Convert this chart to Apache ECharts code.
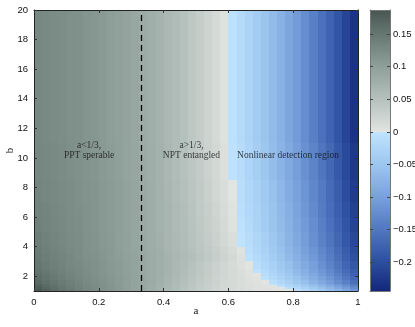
<!DOCTYPE html>
<html>
<head>
<meta charset="utf-8">
<script src="https://cdn.jsdelivr.net/npm/echarts@6/dist/echarts.min.js"></script>
<style>
  html, body { margin: 0; padding: 0; background: #fff; }
  #main { width: 415px; height: 327px; }
</style>
</head>
<body>
<div id="main"></div>
<script>
// cell edges along a (columns) and b (rows)
var aEdges = [0, 0.025, 0.05, 0.075, 0.1, 0.125, 0.15, 0.175, 0.2, 0.225, 0.25, 0.275, 0.3, 0.325,
              0.35, 0.375, 0.4, 0.425, 0.45, 0.475, 0.5, 0.525, 0.55, 0.575, 0.6, 0.625, 0.65,
              0.675, 0.7, 0.725, 0.75, 0.775, 0.8, 0.825, 0.85, 0.875, 0.9, 0.925, 0.95, 0.975, 1];
var bEdges = [1, 1.125, 1.25, 1.375, 1.5, 1.75, 2, 2.25, 2.5, 3, 3.5, 4, 5, 6, 7, 8.5, 11, 20];

// value for each cell, one row per b band (bottom to top)
var fieldRows = [
  [.185,.172,.162,.153,.146,.139,.132,.126,.120,.114,.107,.101,.094,.087,.080,.072,.064,.056,.048,.041,.034,.028,.022,.017,.013,.010,.008,.006,.004,.003,.002,.001,-.010,-.021,-.034,-.048,-.062,-.078,-.094,-.112],
  [.179,.168,.159,.151,.144,.137,.131,.125,.119,.113,.107,.101,.094,.088,.080,.073,.065,.057,.049,.042,.035,.029,.023,.018,.014,.011,.008,.006,.004,.003,.001,-.009,-.021,-.033,-.046,-.060,-.074,-.090,-.106,-.125],
  [.175,.165,.157,.149,.142,.136,.130,.124,.118,.113,.107,.101,.095,.088,.081,.074,.066,.058,.050,.043,.036,.030,.024,.018,.014,.010,.008,.006,.004,.002,-.007,-.019,-.031,-.044,-.057,-.072,-.087,-.103,-.119,-.137],
  [.171,.162,.154,.147,.141,.135,.129,.123,.118,.112,.107,.101,.095,.088,.082,.074,.067,.059,.051,.044,.037,.030,.024,.018,.014,.010,.007,.005,.003,-.003,-.014,-.026,-.038,-.052,-.066,-.080,-.096,-.112,-.129,-.147],
  [.166,.158,.151,.145,.139,.133,.127,.122,.117,.112,.106,.101,.095,.089,.082,.075,.068,.060,.052,.045,.038,.031,.025,.019,.014,.010,.007,.004,.001,-.010,-.021,-.034,-.047,-.060,-.075,-.090,-.106,-.123,-.140,-.158],
  [.161,.154,.148,.142,.136,.131,.126,.121,.116,.111,.106,.101,.095,.089,.083,.076,.069,.062,.054,.046,.039,.032,.025,.019,.014,.010,.006,.003,-.005,-.017,-.029,-.041,-.055,-.069,-.084,-.099,-.115,-.132,-.150,-.168],
  [.157,.151,.145,.139,.134,.129,.124,.120,.115,.110,.105,.100,.095,.089,.083,.077,.070,.063,.055,.047,.040,.033,.026,.020,.014,.009,.005,.001,-.011,-.023,-.035,-.048,-.062,-.076,-.091,-.107,-.123,-.140,-.158,-.176],
  [.154,.148,.142,.137,.132,.128,.123,.119,.114,.110,.105,.100,.095,.089,.083,.077,.071,.064,.056,.048,.041,.034,.027,.020,.014,.009,.004,-.004,-.015,-.027,-.040,-.053,-.067,-.081,-.097,-.112,-.129,-.146,-.164,-.182],
  [.150,.144,.139,.135,.130,.127,.122,.118,.113,.109,.105,.100,.095,.089,.083,.077,.071,.064,.057,.049,.042,.035,.027,.020,.013,.007,.001,-.009,-.021,-.033,-.046,-.059,-.073,-.088,-.103,-.119,-.136,-.153,-.171,-.189],
  [.147,.142,.137,.133,.129,.125,.120,.117,.112,.108,.104,.099,.094,.088,.082,.077,.071,.065,.059,.053,.046,.039,.032,.024,.016,.006,-.005,-.016,-.027,-.039,-.052,-.066,-.080,-.095,-.110,-.126,-.142,-.159,-.178,-.196],
  [.144,.139,.135,.132,.127,.124,.119,.116,.111,.107,.103,.098,.093,.087,.081,.076,.069,.063,.058,.051,.044,.037,.030,.022,.013,.003,-.008,-.019,-.031,-.043,-.057,-.070,-.084,-.100,-.115,-.131,-.147,-.165,-.183,-.201],
  [.141,.137,.133,.130,.126,.123,.118,.115,.110,.106,.102,.097,.092,.086,.080,.074,.068,.062,.056,.049,.042,.034,.027,.018,.009,-.001,-.012,-.024,-.035,-.048,-.061,-.075,-.089,-.105,-.120,-.137,-.153,-.170,-.189,-.207],
  [.138,.134,.131,.128,.124,.122,.117,.114,.109,.105,.101,.096,.091,.085,.079,.073,.067,.061,.055,.048,.040,.032,.024,.015,.005,-.005,-.016,-.028,-.039,-.052,-.065,-.079,-.093,-.109,-.124,-.141,-.157,-.175,-.193,-.212],
  [.136,.133,.130,.127,.123,.121,.117,.113,.109,.105,.101,.096,.091,.085,.079,.073,.067,.060,.054,.046,.038,.030,.022,.012,.003,-.008,-.019,-.031,-.042,-.055,-.068,-.082,-.096,-.112,-.128,-.144,-.161,-.179,-.197,-.216],
  [.133,.131,.128,.126,.123,.120,.116,.113,.109,.105,.101,.096,.091,.085,.079,.073,.066,.059,.052,.045,.037,.028,.019,.010,.001,-.010,-.022,-.033,-.045,-.057,-.071,-.085,-.099,-.115,-.131,-.147,-.164,-.182,-.201,-.220],
  [.131,.129,.127,.124,.121,.119,.115,.112,.108,.104,.100,.095,.090,.084,.078,.072,.065,.058,.051,.043,.035,.026,.017,.007,-.003,-.013,-.025,-.037,-.049,-.062,-.075,-.089,-.104,-.119,-.135,-.152,-.169,-.187,-.206,-.225],
  [.129,.127,.125,.123,.120,.118,.114,.111,.107,.103,.099,.094,.089,.083,.077,.071,.064,.057,.050,.042,.033,.024,.015,.005,-.005,-.016,-.028,-.040,-.052,-.065,-.079,-.093,-.108,-.124,-.140,-.157,-.174,-.192,-.211,-.230]
];

var bTicks = [2, 4, 6, 8, 10, 12, 14, 16, 18, 20];
var barTicks = [-0.2, -0.15, -0.1, -0.05, 0, 0.05, 0.1, 0.15];
var zMin = -0.244, zMax = 0.187;
var splitA = 1 / 3;

var notes = [
  { name: 'a<1/3,\nPPT sperable', value: [0.17, 10.47] },
  { name: 'a>1/3,\nNPT entangled', value: [0.486, 10.47] },
  { name: 'Nonlinear detection region', value: [0.784, 10.13] }
];

// colormap anchors: blue below zero, grey-green above
var blueStops = [[-0.244, [19, 39, 122]], [-0.2, [45, 78, 160]], [-0.15, [80, 119, 192]],
                 [-0.1, [120, 161, 220]], [-0.05, [157, 198, 239]], [0, [192, 228, 255]]];
var greyStops = [[0, [226, 228, 225]], [0.05, [181, 193, 189]], [0.1, [143, 159, 154]],
                 [0.15, [102, 119, 114]], [0.187, [72, 86, 82]]];

function lerpStops(stops, v) {
  if (v <= stops[0][0]) return stops[0][1];
  for (var i = 1; i < stops.length; i++) {
    if (v <= stops[i][0]) {
      var t = (v - stops[i - 1][0]) / (stops[i][0] - stops[i - 1][0]);
      var c0 = stops[i - 1][1], c1 = stops[i][1];
      return [0, 1, 2].map(function (k) { return Math.round(c0[k] + (c1[k] - c0[k]) * t); });
    }
  }
  return stops[stops.length - 1][1];
}
function colorAt(v) {
  var c = v < 0 ? lerpStops(blueStops, v) : lerpStops(greyStops, v);
  return 'rgb(' + c.join(',') + ')';
}

var N = 430;
var rampColors = [];
var rampStops = [];
for (var i = 0; i <= N; i++) {
  var v = zMin + (zMax - zMin) * i / N;
  rampColors.push(colorAt(v));
  rampStops.push({ offset: i / N, color: colorAt(v) });
}

var cells = [];
for (var r = 0; r < fieldRows.length; r++) {
  for (var c = 0; c < aEdges.length - 1; c++) {
    cells.push([aEdges[c], aEdges[c + 1], bEdges[r], bEdges[r + 1], fieldRows[r][c]]);
  }
}

function renderCell(params, api) {
  var p0 = api.coord([api.value(0), api.value(3)]);
  var p1 = api.coord([api.value(1), api.value(2)]);
  var x0 = Math.round(p0[0]), y0 = Math.round(p0[1]);
  var x1 = Math.round(p1[0]), y1 = Math.round(p1[1]);
  return {
    type: 'rect',
    shape: { x: x0, y: y0, width: x1 - x0, height: y1 - y0 },
    style: { fill: api.visual('color') }
  };
}

function renderBar(params, api) {
  var p0 = api.coord([0, zMax]);
  var p1 = api.coord([1, zMin]);
  return {
    type: 'rect',
    shape: { x: p0[0], y: p0[1], width: p1[0] - p0[0], height: p1[1] - p0[1] },
    style: { fill: new echarts.graphic.LinearGradient(0, 1, 0, 0, rampStops) }
  };
}

var sans = "'Liberation Sans', Arial, Helvetica, sans-serif";
var serif = "'Liberation Serif', 'Times New Roman', serif";

function frameAxis(extra) {
  var base = {
    type: 'value', z: 5,
    axisLine: { show: true, onZero: false, lineStyle: { color: '#222', width: 1 } },
    axisTick: { show: true, inside: true, length: 3, lineStyle: { color: '#333' } },
    axisLabel: { show: false },
    splitLine: { show: false }
  };
  return Object.assign(base, extra);
}

var chart = echarts.init(document.getElementById('main'));
chart.setOption({
  animation: false,
  backgroundColor: '#fff',
  grid: [
    { left: 34, top: 10, width: 324, height: 281, containLabel: false, outerBoundsMode: 'none' },
    { left: 370, top: 10, width: 20, height: 281, containLabel: false, outerBoundsMode: 'none' }
  ],
  xAxis: [
    frameAxis({
      gridIndex: 0, position: 'bottom', min: 0, max: 1, interval: 0.2,
      name: 'a', nameLocation: 'middle', nameGap: 15, nameMoveOverlap: false,
      nameTextStyle: { fontFamily: serif, fontSize: 11, color: '#111' },
      axisLabel: { show: true, margin: 6, fontFamily: sans, fontSize: 9.5, color: '#111' }
    }),
    frameAxis({ gridIndex: 0, position: 'top', min: 0, max: 1, interval: 0.2 }),
    frameAxis({ gridIndex: 1, position: 'bottom', min: 0, max: 1,
      axisTick: { show: false }, axisLine: { show: true, onZero: false, lineStyle: { color: '#777' } } }),
    frameAxis({ gridIndex: 1, position: 'top', min: 0, max: 1,
      axisTick: { show: false }, axisLine: { show: true, onZero: false, lineStyle: { color: '#777' } } })
  ],
  yAxis: [
    frameAxis({
      gridIndex: 0, position: 'left', min: 1, max: 20,
      name: 'b', nameLocation: 'middle', nameGap: 18, nameRotate: 90, nameMoveOverlap: false,
      nameTextStyle: { fontFamily: serif, fontSize: 11, color: '#111' },
      axisTick: { show: true, inside: true, length: 3, customValues: bTicks, lineStyle: { color: '#333' } },
      axisLabel: { show: true, margin: 6, customValues: bTicks, fontFamily: sans, fontSize: 9.5, color: '#111' }
    }),
    frameAxis({
      gridIndex: 0, position: 'right', min: 1, max: 20,
      axisTick: { show: true, inside: true, length: 3, customValues: bTicks, lineStyle: { color: '#333' } }
    }),
    frameAxis({
      gridIndex: 1, position: 'right', min: zMin, max: zMax,
      axisLine: { show: true, onZero: false, lineStyle: { color: '#777' } },
      axisTick: { show: true, inside: true, length: 3, customValues: barTicks, lineStyle: { color: '#444' } },
      axisLabel: {
        show: true, margin: 3, customValues: barTicks, fontFamily: sans, fontSize: 9.5, color: '#111',
        formatter: function (v) { return String(+v.toFixed(2)).replace('-', '\u2212'); }
      }
    }),
    frameAxis({
      gridIndex: 1, position: 'left', min: zMin, max: zMax,
      axisLine: { show: true, onZero: false, lineStyle: { color: '#777' } },
      axisTick: { show: true, inside: true, length: 3, customValues: barTicks, lineStyle: { color: '#444' } }
    })
  ],
  visualMap: {
    type: 'continuous', show: false, seriesIndex: 0, dimension: 4,
    min: zMin, max: zMax, inRange: { color: rampColors }
  },
  series: [
    {
      type: 'custom', xAxisIndex: 0, yAxisIndex: 0,
      renderItem: renderCell, data: cells,
      encode: { x: [0, 1], y: [2, 3] },
      markLine: {
        silent: true, symbol: ['none', 'none'], label: { show: false },
        lineStyle: { color: '#000', type: [6, 4], width: 1.3 },
        data: [{ xAxis: splitA }]
      }
    },
    {
      type: 'custom', xAxisIndex: 2, yAxisIndex: 2,
      renderItem: renderBar, data: [[0, 0]]
    },
    {
      type: 'scatter', xAxisIndex: 0, yAxisIndex: 0, symbolSize: 0,
      data: notes,
      label: {
        show: true, position: 'inside', formatter: '{b}',
        fontFamily: serif, fontSize: 9.5, lineHeight: 10, color: '#111', align: 'center'
      }
    }
  ]
});
</script>
</body>
</html>
